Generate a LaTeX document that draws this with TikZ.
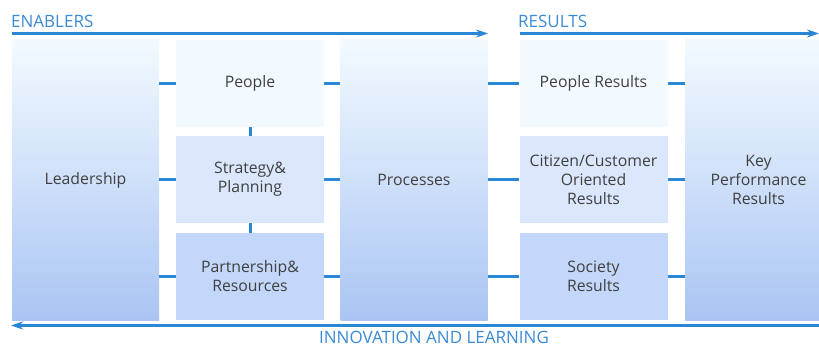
\documentclass[tikz,border=0pt]{standalone}
\usepackage{fontspec}
\setmainfont{Open Sans}
\usepackage{xcolor}
\usepackage{tikz}
\usetikzlibrary{arrows.meta}

\definecolor{linkblue}{HTML}{2A87D6}
\definecolor{headblue}{HTML}{3A8AD4}
\definecolor{labelgray}{HTML}{404040}
\definecolor{paletop}{HTML}{F3FAFF}
\definecolor{palemid}{HTML}{DAE7FD}
\definecolor{palelow}{HTML}{C3D7FA}
\definecolor{palebot}{HTML}{AAC5F3}

\begin{document}
\begin{tikzpicture}[x=1pt,y=-1pt,
  label/.style={text=labelgray,align=center,font=\fontsize{15.8}{19}\selectfont},
  column/.style={label,minimum width=147pt,minimum height=280pt,inner sep=0pt,
    top color=paletop,bottom color=palebot},
  block/.style={label,minimum width=148pt,minimum height=87pt,inner sep=0pt},
  heading/.style={text=headblue,inner sep=0pt,font=\fontsize{17}{20}\selectfont},
  link/.style={draw=linkblue,line width=3pt},
  flow/.style={draw=linkblue,line width=3pt,-{Stealth[length=12pt,width=8pt]}}]
\useasboundingbox (0,0) rectangle (819,347);

\node[column] (lead) at (85.5,180) {Leadership};
\node[block,fill=paletop] (people) at (250,83.5) {People};
\node[block,fill=palemid] (strategy) at (250,179.5) {Strategy\&\\Planning};
\node[block,fill=palelow] (partner) at (250,276.5) {Partnership\&\\Resources};
\node[column] (proc) at (414,180) {Processes};

\node[block,fill=paletop] (presults) at (593.5,83.5) {People Results};
\node[block,fill=palemid] (citizen) at (593.5,179.5) {Citizen/Customer\\Oriented\\Results};
\node[block,fill=palelow] (society) at (593.5,276.5) {Society\\Results};
\node[column] (kpr) at (758.5,180) {Key\\Performance\\Results};

\draw[link] (lead.east |- people.west) -- (people.west);
\draw[link] (lead.east |- strategy.west) -- (strategy.west);
\draw[link] (lead.east |- partner.west) -- (partner.west);
\draw[link] (people.east) -- (proc.west |- people.east);
\draw[link] (strategy.east) -- (proc.west |- strategy.east);
\draw[link] (partner.east) -- (proc.west |- partner.east);
\draw[link] (people.south) -- (strategy.north);
\draw[link] (strategy.south) -- (partner.north);

\draw[link] (proc.east |- presults.west) -- (presults.west);
\draw[link] (proc.east |- citizen.west) -- (citizen.west);
\draw[link] (proc.east |- society.west) -- (society.west);
\draw[link] (presults.east) -- (kpr.west |- presults.east);
\draw[link] (citizen.east) -- (kpr.west |- citizen.east);
\draw[link] (society.east) -- (kpr.west |- society.east);

\coordinate (enabstart) at (12,33.5);
\coordinate (enabend) at (488,33.5);
\coordinate (resstart) at (520,33.5);
\coordinate (resend) at (819,33.5);
\coordinate (learnstart) at (819,325.5);
\coordinate (learnend) at (11,325.5);
\draw[flow] (enabstart) -- (enabend);
\draw[flow] (resstart) -- (resend);
\draw[flow] (learnstart) -- (learnend);

\node[heading,anchor=west] (enablers) at (11,21) {ENABLERS};
\node[heading,anchor=west] (results) at (518,21) {RESULTS};
\node[heading] (learning) at (434,337.5) {INNOVATION AND LEARNING};
\end{tikzpicture}
\end{document}
